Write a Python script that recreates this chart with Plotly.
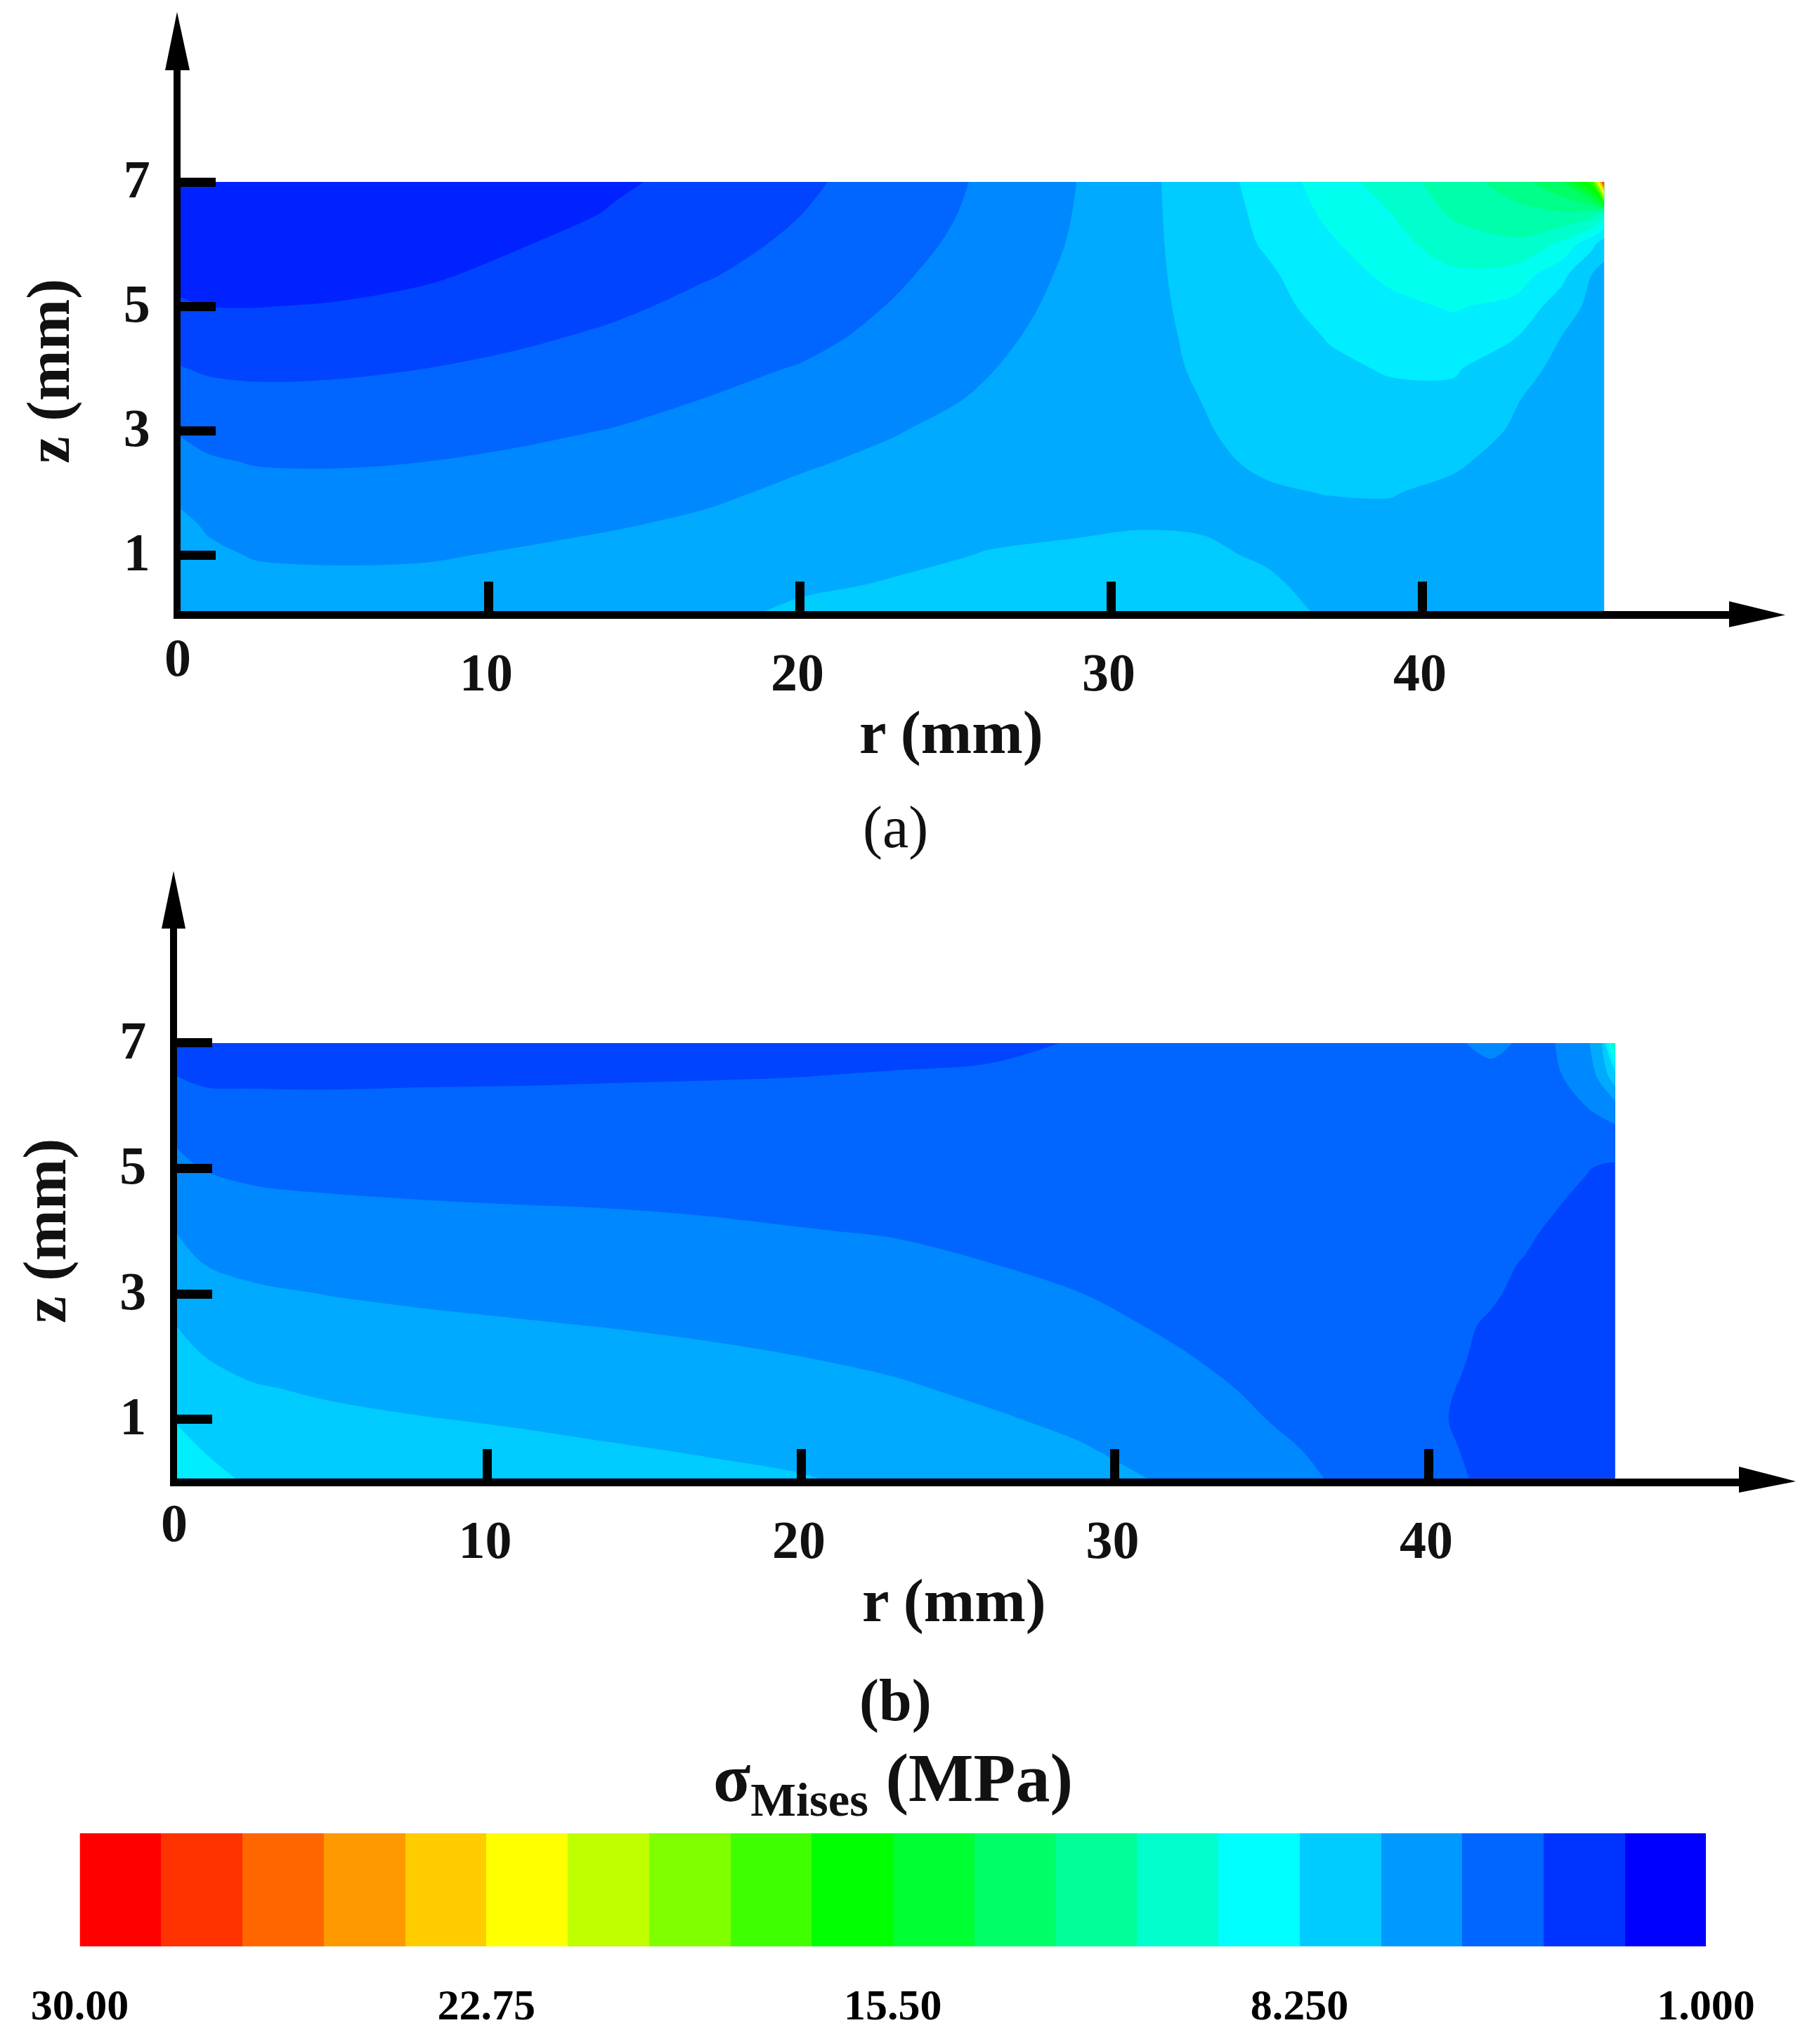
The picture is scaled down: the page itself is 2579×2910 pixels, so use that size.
import numpy as np
import plotly.graph_objects as go

W, H = 2579, 2910
SERIF = "Liberation Serif"

# ---------- data ----------
z_rows = [0, 0.5, 1, 1.5, 2, 2.5, 3, 3.5, 4, 4.5, 5, 5.5, 6, 6.5, 7]

# panel (a): stress in contour-band units (1 band = 29/30 MPa above 1 MPa), one list per r
r_a = [0, 1, 2.5, 5, 8, 11, 14, 17, 20, 23, 26, 29, 31, 33, 35, 37, 39, 41, 43, 44.5, 45.5, 45.85]
band_a = [
    [4.9, 4.7, 4.5, 4.2, 3.85, 3.4, 2.95, 2.5, 2.05, 1.6, 1.15, 0.7, 0.4, 0.2, 0.05],
    [4.7, 4.4, 4.15, 3.9, 3.5, 3.1, 2.7, 2.3, 1.9, 1.45, 1.0, 0.65, 0.35, 0.15, 0.03],
    [4.5, 4.25, 3.95, 3.6, 3.3, 2.95, 2.6, 2.2, 1.85, 1.4, 0.98, 0.6, 0.3, 0.12, 0.02],
    [4.4, 4.2, 3.9, 3.55, 3.25, 2.93, 2.6, 2.22, 1.88, 1.47, 1.05, 0.68, 0.35, 0.15, 0.03],
    [4.45, 4.25, 3.92, 3.6, 3.3, 3.0, 2.67, 2.33, 2.0, 1.64, 1.26, 0.88, 0.52, 0.25, 0.08],
    [4.6, 4.4, 4.08, 3.76, 3.46, 3.15, 2.83, 2.52, 2.2, 1.87, 1.55, 1.25, 0.95, 0.55, 0.2],
    [4.75, 4.5, 4.25, 3.93, 3.65, 3.33, 3.03, 2.72, 2.43, 2.14, 1.85, 1.58, 1.33, 1.07, 0.85],
    [4.8, 4.65, 4.4, 4.13, 3.86, 3.58, 3.3, 3.02, 2.75, 2.48, 2.2, 1.95, 1.72, 1.5, 1.3],
    [5.2, 4.88, 4.62, 4.38, 4.15, 3.9, 3.65, 3.35, 3.05, 2.75, 2.5, 2.3, 2.15, 1.98, 1.85],
    [5.3, 5.07, 4.82, 4.62, 4.4, 4.17, 3.95, 3.7, 3.45, 3.25, 3.05, 2.85, 2.65, 2.5, 2.35],
    [5.5, 5.25, 5.03, 4.83, 4.65, 4.5, 4.3, 4.1, 3.95, 3.8, 3.65, 3.5, 3.35, 3.22, 3.15],
    [5.6, 5.4, 5.1, 4.92, 4.78, 4.65, 4.55, 4.5, 4.43, 4.35, 4.27, 4.2, 4.12, 4.07, 4.03],
    [5.65, 5.45, 5.2, 4.95, 4.85, 4.78, 4.75, 4.72, 4.72, 4.72, 4.74, 4.75, 4.75, 4.75, 4.75],
    [5.6, 5.4, 5.13, 4.92, 4.87, 4.88, 4.95, 5.02, 5.12, 5.2, 5.28, 5.36, 5.44, 5.5, 5.55],
    [5.35, 5.15, 4.9, 4.87, 4.93, 5.1, 5.25, 5.4, 5.5, 5.6, 5.72, 5.85, 6.1, 6.22, 6.35],
    [4.9, 4.72, 4.65, 4.8, 5.02, 5.3, 5.55, 5.72, 5.85, 6.04, 6.3, 6.55, 6.85, 7.2, 7.5],
    [4.55, 4.6, 4.68, 4.85, 5.03, 5.33, 5.6, 5.82, 6.07, 6.4, 6.75, 7.2, 7.65, 8.0, 8.5],
    [4.4, 4.45, 4.55, 4.7, 4.85, 5.1, 5.45, 5.78, 6.1, 6.55, 7.1, 7.8, 8.5, 9.15, 9.5],
    [4.3, 4.35, 4.4, 4.5, 4.6, 4.75, 4.9, 5.05, 5.45, 6.02, 6.7, 7.55, 8.8, 9.7, 10.5],
    [4.3, 4.3, 4.32, 4.35, 4.4, 4.45, 4.55, 4.62, 4.7, 4.97, 5.5, 6.25, 7.8, 9.9, 12.0],
    [4.3, 4.3, 4.3, 4.3, 4.32, 4.35, 4.4, 4.45, 4.52, 4.6, 4.7, 4.9, 6.2, 9.5, 16.0],
    [4.3, 4.3, 4.3, 4.3, 4.3, 4.32, 4.35, 4.42, 4.5, 4.58, 4.65, 4.7, 5.4, 8.7, 29.0],
]

# panel (b)
r_b = [0, 1, 2.5, 5, 8, 11, 14, 17, 20, 23, 26, 29, 32, 35, 38, 40, 41, 42, 43, 44, 45, 45.5, 45.95]
band_b = [
    [6.9, 6.45, 5.98, 5.62, 5.35, 5.03, 4.7, 4.37, 4.03, 3.65, 3.3, 2.9, 2.4, 2.0, 1.4],
    [6.3, 5.97, 5.6, 5.3, 5.0, 4.65, 4.3, 3.97, 3.65, 3.3, 2.97, 2.6, 2.22, 1.85, 1.4],
    [5.9, 5.6, 5.37, 5.06, 4.75, 4.43, 4.12, 3.8, 3.47, 3.15, 2.83, 2.5, 2.18, 1.85, 1.4],
    [5.7, 5.47, 5.17, 4.88, 4.58, 4.28, 3.98, 3.67, 3.36, 3.06, 2.76, 2.46, 2.16, 1.85, 1.45],
    [5.55, 5.3, 5.03, 4.74, 4.45, 4.15, 3.87, 3.57, 3.28, 3.0, 2.72, 2.44, 2.17, 1.88, 1.5],
    [5.45, 5.2, 4.92, 4.65, 4.33, 4.06, 3.78, 3.5, 3.22, 2.96, 2.7, 2.44, 2.17, 1.9, 1.55],
    [5.35, 5.07, 4.8, 4.55, 4.25, 3.97, 3.73, 3.45, 3.18, 2.93, 2.68, 2.43, 2.18, 1.93, 1.6],
    [5.2, 4.95, 4.7, 4.43, 4.13, 3.87, 3.62, 3.37, 3.12, 2.87, 2.65, 2.42, 2.2, 1.95, 1.65],
    [5.08, 4.8, 4.53, 4.27, 4.0, 3.75, 3.5, 3.27, 3.03, 2.8, 2.6, 2.4, 2.2, 1.98, 1.7],
    [4.8, 4.55, 4.3, 4.08, 3.85, 3.6, 3.38, 3.17, 2.95, 2.75, 2.55, 2.38, 2.2, 2.03, 1.8],
    [4.5, 4.3, 4.08, 3.86, 3.65, 3.43, 3.22, 3.0, 2.83, 2.67, 2.52, 2.38, 2.25, 2.08, 1.85],
    [4.3, 4.05, 3.85, 3.62, 3.4, 3.2, 3.0, 2.85, 2.7, 2.58, 2.47, 2.37, 2.28, 2.15, 2.05],
    [3.9, 3.72, 3.5, 3.28, 3.06, 2.88, 2.72, 2.58, 2.48, 2.4, 2.33, 2.3, 2.28, 2.27, 2.27],
    [3.35, 3.17, 2.97, 2.82, 2.7, 2.6, 2.5, 2.42, 2.35, 2.3, 2.27, 2.27, 2.3, 2.35, 2.4],
    [2.75, 2.65, 2.55, 2.45, 2.38, 2.3, 2.25, 2.2, 2.18, 2.18, 2.2, 2.25, 2.33, 2.45, 2.6],
    [2.35, 2.25, 2.18, 2.13, 2.12, 2.12, 2.13, 2.15, 2.17, 2.2, 2.24, 2.3, 2.4, 2.55, 2.8],
    [2.1, 2.0, 1.9, 1.98, 2.05, 2.1, 2.12, 2.13, 2.15, 2.2, 2.25, 2.33, 2.45, 2.63, 2.95],
    [1.8, 1.75, 1.7, 1.75, 1.85, 1.92, 2.08, 2.12, 2.17, 2.23, 2.3, 2.4, 2.52, 2.8, 3.2],
    [1.55, 1.5, 1.47, 1.5, 1.58, 1.72, 1.85, 1.98, 2.13, 2.24, 2.33, 2.43, 2.55, 2.75, 2.9],
    [1.4, 1.38, 1.36, 1.38, 1.42, 1.5, 1.6, 1.74, 1.9, 2.08, 2.27, 2.45, 2.65, 2.87, 2.97],
    [1.3, 1.28, 1.27, 1.28, 1.3, 1.35, 1.43, 1.55, 1.7, 1.85, 2.05, 2.5, 3.0, 3.4, 3.7],
    [1.25, 1.25, 1.25, 1.25, 1.27, 1.3, 1.38, 1.5, 1.62, 1.78, 1.93, 2.45, 3.3, 4.3, 4.8],
    [1.2, 1.2, 1.2, 1.2, 1.22, 1.27, 1.33, 1.45, 1.58, 1.72, 1.85, 2.55, 3.65, 5.8, 9.3],
]

# colours of the 30 contour bands drawn in the fields, lowest stress first
field_colors = ["#0022ff", "#0044ff", "#0066ff", "#0088ff", "#00aaff", "#00ccff", "#00eeff", "#00ffee",
                "#00ffcc", "#00ffaa", "#00ff88", "#00ff66", "#00ff44", "#00ff22", "#00ff00", "#22ff00",
                "#44ff00", "#66ff00", "#88ff00", "#aaff00", "#ccff00", "#eeff00", "#ffee00", "#ffcc00",
                "#ffaa00", "#ff8800", "#ff6600", "#ff4400", "#ff2200", "#ff0000"]

# legend bar: 20 bands, highest stress (left) to lowest
legend_mid = [29.275, 27.825, 26.375, 24.925, 23.475, 22.025, 20.575, 19.125, 17.675, 16.225,
              14.775, 13.325, 11.875, 10.425, 8.975, 7.525, 6.075, 4.625, 3.175, 1.725]
legend_colors = ["#ff0000", "#ff3300", "#ff6600", "#ff9900", "#ffcc00", "#ffff00", "#bfff00", "#80ff00",
                 "#40ff00", "#00ff00", "#00ff33", "#00ff66", "#00ff99", "#00ffcc", "#00ffff", "#00ccff",
                 "#0099ff", "#0066ff", "#0033ff", "#0000ff"]
legend_ticks = [30, 22.75, 15.5, 8.25, 1]
legend_ticktext = ["30.00", "22.75", "15.50", "8.250", "1.000"]

r_ticks = [10, 20, 30, 40]
z_ticks = [1, 3, 5, 7]
MPA_MIN, MPA_MAX, N_BANDS = 1.0, 30.0, 30
STEP = (MPA_MAX - MPA_MIN) / N_BANDS


def to_mpa(columns):
    return (MPA_MIN + np.array(columns).T * STEP).round(3).tolist()


# ---------- pixel helpers ----------
def xdom(a, b):
    return [a / W, b / W]


def ydom(top, bottom):
    return [1 - bottom / H, 1 - top / H]


def px(x):
    return x / W


def py(y):
    return 1 - y / H


n = len(field_colors)
scale = [[0, field_colors[0]]] + [[(k + 1) / (n + 1), field_colors[k]] for k in range(n)] + [[1, field_colors[-1]]]


def field(x, z, xa, ya):
    return go.Contour(x=x, y=z_rows, z=to_mpa(z), xaxis=xa, yaxis=ya,
                      contours=dict(start=MPA_MIN, end=MPA_MAX, size=STEP, coloring="fill", showlines=False),
                      line=dict(width=0, smoothing=1), colorscale=scale, showscale=False,
                      hoverinfo="skip")


legend_scale = []
for i, c in enumerate(reversed(legend_colors)):
    legend_scale += [[i / 20, c], [(i + 1) / 20, c]]

fig = go.Figure()
fig.add_trace(field(r_a, band_a, "x", "y"))
fig.add_trace(field(r_b, band_b, "x2", "y2"))
fig.add_trace(go.Heatmap(x=legend_mid, y=[0], z=[legend_mid], xaxis="x3", yaxis="y3", zmin=MPA_MIN, zmax=MPA_MAX,
                         colorscale=legend_scale, showscale=False, hoverinfo="skip"))

tick_font = dict(family=SERIF, size=76, color="#111111", weight=700)


def x_axis(dom, rng, anchor, standoff):
    return dict(domain=dom, range=rng, anchor=anchor, showgrid=False, zeroline=False, automargin=False,
                showline=True, linewidth=11, linecolor="black", mirror=False,
                tickmode="array", tickvals=r_ticks, ticktext=[str(v) for v in r_ticks],
                ticks="inside", ticklen=42, tickwidth=13, tickcolor="black",
                tickfont=tick_font, ticklabelstandoff=standoff, ticklabelshift=-3)


def y_axis(dom, rng, anchor):
    return dict(domain=dom, range=rng, anchor=anchor, showgrid=False, zeroline=False, automargin=False,
                showline=True, linewidth=10, linecolor="black", mirror=False,
                tickmode="array", tickvals=z_ticks, ticktext=[str(v) for v in z_ticks],
                ticks="inside", ticklen=50, tickwidth=13, tickcolor="black",
                tickfont=tick_font, ticklabelstandoff=18, ticklabelshift=-5)


# panel a: r=0 at x=252, 44.3 px/mm; z=0 at y=878.5, 88.5 px/mm
fig.update_layout(
    xaxis=x_axis(xdom(257, 2470), [5 / 44.3, (2470 - 252) / 44.3], "y", 11),
    yaxis=y_axis(ydom(95, 870), [(878.5 - 870) / 88.5, (878.5 - 95) / 88.5], "x"),
    # panel b: r=0 at x=247, 44.65 px/mm; z=0 at y=2110, 89.3 px/mm
    xaxis2=x_axis(xdom(251.5, 2485), [4.5 / 44.65, (2485 - 247) / 44.65], "y2", 11),
    yaxis2=y_axis(ydom(1317, 2104.5), [(2110 - 2104.5) / 89.3, (2110 - 1317) / 89.3], "x2"),
    xaxis3=dict(domain=xdom(113.5, 2428), range=[MPA_MAX, MPA_MIN], anchor="y3", showgrid=False, zeroline=False,
                automargin=False, showline=False, tickmode="array", tickvals=legend_ticks, ticktext=legend_ticktext,
                ticks="", tickfont=dict(family=SERIF, size=62, color="black", weight=700), ticklabelstandoff=41),
    yaxis3=dict(domain=ydom(2610, 2771), range=[-0.5, 0.5], anchor="x3", visible=False),
    width=W, height=H, margin=dict(l=0, r=0, t=0, b=0, pad=0, autoexpand=False), autosize=False,
    paper_bgcolor="white", plot_bgcolor="white", showlegend=False,
)


def arrow(tip, b1, b2):
    return dict(type="path", xref="paper", yref="paper", fillcolor="black", line=dict(width=0), layer="above",
                path="M{} {} L{} {} L{} {} Z".format(px(tip[0]), py(tip[1]), px(b1[0]), py(b1[1]), px(b2[0]), py(b2[1])))


fig.update_layout(shapes=[
    arrow((252, 17), (235, 100), (270, 100)),
    arrow((2541, 875.5), (2461, 856), (2461, 893)),
    arrow((247, 1240), (230, 1322), (264, 1322)),
    arrow((2556, 2109), (2475, 2088), (2475, 2125)),
])


def note(text, x, y, size=87, angle=0, bold=True):
    fig.add_annotation(text=text, x=px(x), y=py(y), xref="paper", yref="paper", showarrow=False,
                       xanchor="center", yanchor="middle", textangle=angle,
                       font=dict(family=SERIF, size=size, color="#111111", weight=700 if bold else 400))


note("0", 253, 936, size=76)
note("0", 248, 2168, size=76)
note("r (mm)", 1354, 1042)
note("r (mm)", 1358, 2278)
note("z (mm)", 68, 529, angle=-90)
note("z (mm)", 63, 1753, angle=-90)
note("(a)", 1274, 1178, size=84, bold=False)
note("(b)", 1274, 2421, size=84)
note("σ<sub>Mises</sub> (MPa)", 1271, 2538, size=98)

fig.write_html("out.html", config={"displayModeBar": False},
               post_script="document.body.style.margin='0';document.body.style.overflow='hidden';")
